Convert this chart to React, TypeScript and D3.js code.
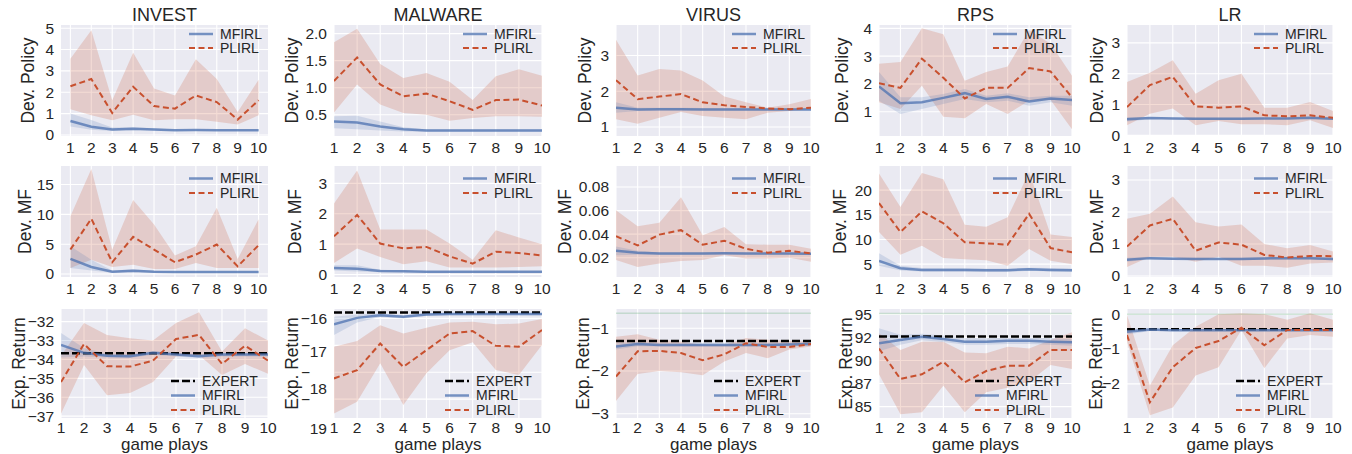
import React from 'react';
import * as d3 from 'd3';

// x axis: game plays
const games = [1, 2, 3, 4, 5, 6, 7, 8, 9, 10];
const envs = ['INVEST', 'MALWARE', 'VIRUS', 'RPS', 'LR'];
const rowLabels = ['Dev. Policy', 'Dev. MF', 'Exp. Return'];

// ---- row 1: Dev. Policy ----
const investPolMF = [0.65, 0.38, 0.26, 0.29, 0.26, 0.22, 0.23, 0.22, 0.22, 0.22];
const investPolMFLo = [0.4, 0.24, 0.19, 0.22, 0.21, 0.18, 0.19, 0.18, 0.18, 0.18];
const investPolMFHi = [1.0, 0.7, 0.35, 0.36, 0.31, 0.26, 0.27, 0.26, 0.26, 0.26];
const investPolPL = [2.28, 2.62, 1.03, 2.26, 1.35, 1.23, 1.85, 1.54, 0.72, 1.62];
const investPolPLLo = [1.2, 0.92, 0.69, 0.95, 0.69, 0.74, 0.74, 0.62, 0.49, 0.92];
const investPolPLHi = [3.57, 4.9, 1.62, 3.85, 2.18, 1.85, 3.54, 2.62, 1.08, 2.58];

const malwarePolMF = [0.375, 0.356, 0.28, 0.23, 0.21, 0.21, 0.21, 0.21, 0.21, 0.21];
const malwarePolMFLo = [0.25, 0.23, 0.21, 0.19, 0.19, 0.19, 0.19, 0.19, 0.19, 0.19];
const malwarePolMFHi = [0.47, 0.48, 0.375, 0.27, 0.23, 0.23, 0.23, 0.23, 0.23, 0.23];
const malwarePolPL = [1.125, 1.56, 1.06, 0.84, 0.89, 0.75, 0.59, 0.77, 0.78, 0.67];
const malwarePolPLLo = [0.54, 1.06, 0.69, 0.53, 0.5, 0.39, 0.44, 0.47, 0.47, 0.46];
const malwarePolPLHi = [1.84, 2.09, 1.44, 1.18, 1.27, 1.11, 0.77, 1.21, 1.34, 1.22];

const virusPolMF = [1.54, 1.49, 1.5, 1.5, 1.49, 1.49, 1.49, 1.49, 1.49, 1.49];
const virusPolMFLo = [1.4, 1.45, 1.46, 1.46, 1.46, 1.46, 1.46, 1.46, 1.46, 1.46];
const virusPolMFHi = [1.69, 1.54, 1.54, 1.54, 1.53, 1.53, 1.53, 1.53, 1.53, 1.53];
const virusPolPL = [2.31, 1.78, 1.85, 1.92, 1.69, 1.61, 1.56, 1.52, 1.5, 1.54];
const virusPolPLLo = [1.22, 1.09, 1.26, 1.42, 1.31, 1.26, 1.22, 1.4, 1.45, 1.5];
const virusPolPLHi = [3.44, 2.44, 2.62, 2.58, 2.3, 1.85, 1.69, 1.54, 1.64, 1.78];

const rpsPolMF = [1.91, 1.31, 1.34, 1.5, 1.67, 1.46, 1.54, 1.37, 1.48, 1.42];
const rpsPolMFLo = [1.4, 0.92, 1.1, 1.28, 1.46, 1.34, 1.4, 1.22, 1.34, 1.22];
const rpsPolMFHi = [2.43, 1.52, 1.52, 1.64, 1.82, 1.58, 1.67, 1.52, 1.58, 1.58];
const rpsPolPL = [2.03, 1.86, 2.91, 2.22, 1.48, 1.86, 1.86, 2.57, 2.45, 1.52];
const rpsPolPLLo = [1.34, 1.1, 1.94, 0.82, 0.77, 1.28, 0.92, 1.4, 1.42, 0.37];
const rpsPolPLHi = [2.73, 2.79, 4.0, 3.79, 2.12, 2.43, 2.63, 3.94, 3.45, 2.3];

const lrPolMF = [0.52, 0.56, 0.55, 0.54, 0.54, 0.54, 0.55, 0.55, 0.57, 0.54];
const lrPolMFLo = [0.45, 0.52, 0.52, 0.51, 0.51, 0.51, 0.52, 0.52, 0.53, 0.5];
const lrPolMFHi = [0.6, 0.6, 0.58, 0.57, 0.57, 0.57, 0.58, 0.58, 0.61, 0.58];
const lrPolPL = [0.92, 1.63, 1.9, 0.94, 0.9, 0.94, 0.65, 0.62, 0.65, 0.57];
const lrPolPLLo = [0.33, 0.7, 0.87, 0.33, 0.47, 0.36, 0.36, 0.33, 0.49, 0.24];
const lrPolPLHi = [1.73, 2.03, 2.44, 1.35, 1.79, 2.0, 0.9, 0.9, 1.08, 0.79];

// ---- row 2: Dev. MF ----
const investMfMF = [2.53, 1.18, 0.39, 0.56, 0.39, 0.34, 0.34, 0.34, 0.34, 0.34];
const investMfMFLo = [1.0, 0.6, 0.2, 0.3, 0.2, 0.2, 0.2, 0.2, 0.2, 0.2];
const investMfMFHi = [4.66, 2.4, 0.6, 0.8, 0.55, 0.48, 0.48, 0.48, 0.48, 0.48];
const investMfPL = [4.1, 9.27, 1.97, 6.24, 4.1, 1.97, 3.26, 4.94, 1.29, 4.83];
const investMfPLLo = [1.0, 2.4, 1.18, 1.57, 0.84, 0.84, 1.85, 1.0, 1.0, 1.0];
const investMfPLHi = [9.7, 17.6, 4.1, 12.4, 8.3, 3.1, 4.66, 11.1, 2.53, 9.16];

const malwareMfMF = [0.22, 0.19, 0.12, 0.11, 0.09, 0.09, 0.09, 0.09, 0.09, 0.09];
const malwareMfMFLo = [0.13, 0.1, 0.08, 0.07, 0.06, 0.06, 0.06, 0.06, 0.06, 0.06];
const malwareMfMFHi = [0.31, 0.31, 0.16, 0.14, 0.12, 0.12, 0.12, 0.12, 0.12, 0.12];
const malwareMfPL = [1.26, 1.96, 1.02, 0.86, 0.91, 0.6, 0.36, 0.75, 0.71, 0.63];
const malwareMfPLLo = [0.38, 0.86, 0.58, 0.34, 0.44, 0.23, 0.23, 0.23, 0.25, 0.27];
const malwareMfPLHi = [2.34, 3.42, 1.48, 1.48, 1.48, 1.02, 0.49, 1.46, 1.22, 1.0];

const virusMfMF = [0.026, 0.0243, 0.0235, 0.0235, 0.0235, 0.0237, 0.0235, 0.0235, 0.0235, 0.0233];
const virusMfMFLo = [0.022, 0.0225, 0.0225, 0.0225, 0.0225, 0.0227, 0.0225, 0.0225, 0.0225, 0.0223];
const virusMfMFHi = [0.0295, 0.026, 0.0245, 0.0245, 0.0245, 0.0247, 0.0245, 0.0245, 0.0245, 0.0243];
const virusMfPL = [0.0382, 0.0304, 0.0396, 0.0434, 0.031, 0.0344, 0.0275, 0.0243, 0.0258, 0.0237];
const virusMfPLLo = [0.018, 0.0122, 0.0151, 0.0171, 0.018, 0.022, 0.0194, 0.0194, 0.02, 0.0165];
const virusMfPLHi = [0.0604, 0.0468, 0.0497, 0.0713, 0.039, 0.046, 0.0315, 0.031, 0.031, 0.0275];

const rpsMfMF = [5.68, 4.18, 3.84, 3.84, 3.84, 3.77, 3.77, 3.98, 3.84, 3.77];
const rpsMfMFLo = [4.66, 3.7, 3.5, 3.5, 3.5, 3.45, 3.45, 3.65, 3.5, 3.45];
const rpsMfMFHi = [7.2, 4.7, 4.2, 4.2, 4.2, 4.1, 4.1, 4.3, 4.2, 4.1];
const rpsMfPL = [17.4, 11.5, 15.7, 13.3, 9.43, 9.23, 8.95, 15.2, 8.27, 7.39];
const rpsMfPLLo = [11.5, 6.9, 8.75, 6.23, 6.0, 5.8, 4.66, 8.07, 5.68, 5.0];
const rpsMfPLHi = [23.4, 16.6, 23.5, 22.2, 13.0, 12.6, 14.5, 23.7, 11.0, 10.5];

const lrMfMF = [0.51, 0.56, 0.54, 0.53, 0.53, 0.53, 0.55, 0.56, 0.56, 0.53];
const lrMfMFLo = [0.45, 0.52, 0.5, 0.5, 0.5, 0.5, 0.51, 0.52, 0.52, 0.49];
const lrMfMFHi = [0.57, 0.6, 0.58, 0.57, 0.57, 0.57, 0.59, 0.6, 0.6, 0.57];
const lrMfPL = [0.92, 1.58, 1.79, 0.79, 1.05, 0.98, 0.66, 0.58, 0.63, 0.62];
const lrMfPLLo = [0.28, 0.6, 0.6, 0.45, 0.6, 0.32, 0.32, 0.26, 0.39, 0.42];
const lrMfPLHi = [1.79, 1.95, 2.49, 1.68, 1.55, 1.61, 1.0, 0.87, 0.97, 0.77];

// ---- row 3: Exp. Return ----
const investRetExpert = -33.67;
const investRetMF = [-33.23, -33.65, -33.8, -33.83, -33.65, -33.74, -33.83, -33.74, -33.74, -33.74];
const investRetMFLo = [-33.9, -33.85, -33.9, -33.93, -33.75, -33.84, -33.93, -33.84, -33.84, -33.84];
const investRetMFHi = [-32.6, -33.4, -33.7, -33.73, -33.55, -33.64, -33.73, -33.64, -33.64, -33.64];
const investRetPL = [-35.2, -33.18, -34.36, -34.38, -34.06, -32.92, -32.7, -34.24, -33.27, -34.06];
const investRetPLLo = [-36.88, -34.29, -35.9, -35.77, -35.2, -33.85, -33.76, -34.82, -34.24, -34.76];
const investRetPLHi = [-33.8, -32.07, -32.7, -32.88, -33.0, -32.07, -31.5, -33.58, -32.35, -33.0];

const malwareRetExpert = -15.78;
const malwareRetMF = [-16.22, -15.98, -15.88, -15.94, -15.85, -15.84, -15.84, -15.84, -15.84, -15.84];
const malwareRetMFLo = [-16.62, -16.15, -15.95, -16.0, -15.9, -15.88, -15.88, -15.88, -15.88, -15.88];
const malwareRetMFHi = [-15.94, -15.85, -15.82, -15.88, -15.8, -15.8, -15.8, -15.8, -15.8, -15.8];
const malwareRetPL = [-18.23, -17.92, -16.93, -17.8, -17.18, -16.56, -16.47, -17.02, -17.05, -16.43];
const malwareRetPLLo = [-19.53, -19.1, -17.67, -19.22, -18.04, -17.18, -16.89, -17.92, -18.1, -16.99];
const malwareRetPLHi = [-17.05, -16.84, -16.25, -16.56, -16.35, -16.15, -16.12, -16.22, -16.19, -16.02];

const virusRetExpert = -1.3;
const virusRetTop = -0.65;
const virusRetMF = [-1.43, -1.37, -1.39, -1.39, -1.39, -1.39, -1.39, -1.39, -1.38, -1.37];
const virusRetMFLo = [-1.5, -1.42, -1.43, -1.43, -1.43, -1.43, -1.43, -1.43, -1.42, -1.41];
const virusRetMFHi = [-1.36, -1.32, -1.35, -1.35, -1.35, -1.35, -1.35, -1.35, -1.34, -1.33];
const virusRetPL = [-2.13, -1.54, -1.53, -1.58, -1.75, -1.61, -1.35, -1.44, -1.44, -1.37];
const virusRetPLLo = [-2.7, -2.07, -2.0, -2.03, -2.1, -1.78, -1.58, -1.7, -1.5, -1.43];
const virusRetPLHi = [-1.2, -1.14, -1.27, -1.31, -1.39, -1.39, -1.23, -1.27, -1.3, -1.31];

const rpsRetExpert = 92.6;
const rpsRetTop = 95.1;
const rpsRetMF = [91.86, 92.22, 92.58, 92.33, 92.04, 92.04, 92.15, 92.15, 92.04, 91.97];
const rpsRetMFLo = [91.0, 91.7, 92.2, 92.0, 91.7, 91.7, 91.8, 91.8, 91.7, 91.6];
const rpsRetMFHi = [93.5, 92.8, 92.9, 92.7, 92.4, 92.4, 92.5, 92.5, 92.4, 92.3];
const rpsRetPL = [91.3, 88.0, 88.5, 89.87, 87.64, 88.86, 89.44, 89.44, 91.14, 91.14];
const rpsRetPLLo = [88.5, 84.17, 84.39, 87.27, 84.39, 86.55, 87.06, 87.7, 89.5, 89.08];
const rpsRetPLHi = [92.94, 91.14, 92.04, 92.04, 90.88, 90.78, 91.5, 91.3, 92.22, 93.05];

const lrRetExpert = -0.43;
const lrRetTop = 0.0;
const lrRetMF = [-0.5, -0.44, -0.46, -0.46, -0.46, -0.46, -0.46, -0.46, -0.46, -0.46];
const lrRetMFLo = [-0.58, -0.48, -0.49, -0.49, -0.49, -0.49, -0.49, -0.49, -0.49, -0.49];
const lrRetMFHi = [-0.42, -0.4, -0.43, -0.43, -0.43, -0.43, -0.43, -0.43, -0.43, -0.43];
const lrRetPL = [-0.6, -2.53, -1.52, -0.97, -0.77, -0.39, -0.89, -0.45, -0.45, -0.45];
const lrRetPLLo = [-0.79, -2.9, -2.68, -1.76, -1.52, -0.45, -1.55, -0.7, -0.6, -0.65];
const lrRetPLHi = [-0.02, -2.05, -0.89, -0.36, 0.0, 0.03, 0.0, -0.16, 0.03, -0.16];

// y ticks per panel
const ticksInvestPol = [0, 1, 2, 3, 4, 5];
const ticksMalwarePol = [0.5, 1.0, 1.5, 2.0];
const ticksVirusPol = [1, 2, 3];
const ticksRpsPol = [1, 2, 3, 4];
const ticksLrPol = [0, 1, 2, 3];
const ticksInvestMf = [0, 5, 10, 15];
const ticksMalwareMf = [0, 1, 2, 3];
const ticksVirusMf = [0.02, 0.04, 0.06, 0.08];
const ticksRpsMf = [5, 10, 15, 20];
const ticksLrMf = [0, 1, 2, 3];
const ticksInvestRet = [-37, -36, -35, -34, -33, -32];
const ticksMalwareRet = [-19, -18, -17, -16];
const ticksVirusRet = [-3, -2, -1];
const ticksRpsRet = [85, 87.5, 90, 92.5, 95];
const ticksLrRet = [-2, -1, 0];

// ---- layout ----
const W = 1352;
const H = 454;
const FONT = '"Liberation Sans", Arial, Helvetica, sans-serif';
const BG = '#EAEAF2';
const MF_COLOR = '#4C72B0';
const PL_COLOR = '#C8502E';
const TXT = '#262626';
const COLS: [number, number][] = [[61, 268], [334, 542], [616, 811], [879, 1072], [1127, 1333]];
const ROWS: [number, number][] = [[25, 136], [166, 277], [309, 418]];
const YLABEL_X = [
  [28, 292, 585, 842, 1097],
  [25, 295, 565, 840, 1097],
  [19, 292, 583, 846, 1096],
];
const LEGEND_Y = [[34, 48], [178.5, 193], [381, 395.5, 410]];

const minus = (s: string) => s.replace('-', '\u2212');

const fmt = {
  int: (v: number) => minus(String(Math.trunc(v))),
  one: (v: number) => minus(v.toFixed(1)),
  two: (v: number) => minus(v.toFixed(2)),
};

type Spec = {
  row: number; col: number;
  mf: number[]; mfLo: number[]; mfHi: number[];
  pl: number[]; plLo: number[]; plHi: number[];
  expert?: number; top?: number;
  yDomain: [number, number]; yTicks: number[];
  tickFmt: (v: number) => string;
  padX?: boolean; splitMinus?: number[];
};

const panels: Spec[] = [
  { row: 0, col: 0, mf: investPolMF, mfLo: investPolMFLo, mfHi: investPolMFHi, pl: investPolPL, plLo: investPolPLLo, plHi: investPolPLHi, yDomain: [-0.05, 5.15], yTicks: ticksInvestPol, tickFmt: fmt.int, padX: true },
  { row: 0, col: 1, mf: malwarePolMF, mfLo: malwarePolMFLo, mfHi: malwarePolMFHi, pl: malwarePolPL, plLo: malwarePolPLLo, plHi: malwarePolPLHi, yDomain: [0.106, 2.16], yTicks: ticksMalwarePol, tickFmt: fmt.one },
  { row: 0, col: 2, mf: virusPolMF, mfLo: virusPolMFLo, mfHi: virusPolMFHi, pl: virusPolPL, plLo: virusPolPLLo, plHi: virusPolPLHi, yDomain: [0.75, 3.85], yTicks: ticksVirusPol, tickFmt: fmt.int },
  { row: 0, col: 3, mf: rpsPolMF, mfLo: rpsPolMFLo, mfHi: rpsPolMFHi, pl: rpsPolPL, plLo: rpsPolPLLo, plHi: rpsPolPLHi, yDomain: [0.13, 4.12], yTicks: ticksRpsPol, tickFmt: fmt.int },
  { row: 0, col: 4, mf: lrPolMF, mfLo: lrPolMFLo, mfHi: lrPolMFHi, pl: lrPolPL, plLo: lrPolPLLo, plHi: lrPolPLHi, yDomain: [-0.02, 3.58], yTicks: ticksLrPol, tickFmt: fmt.int },
  { row: 1, col: 0, mf: investMfMF, mfLo: investMfMFLo, mfHi: investMfMFHi, pl: investMfPL, plLo: investMfPLLo, plHi: investMfPLHi, yDomain: [-0.5, 18.1], yTicks: ticksInvestMf, tickFmt: fmt.int, padX: true },
  { row: 1, col: 1, mf: malwareMfMF, mfLo: malwareMfMFLo, mfHi: malwareMfMFHi, pl: malwareMfPL, plLo: malwareMfPLLo, plHi: malwareMfPLHi, yDomain: [-0.08, 3.57], yTicks: ticksMalwareMf, tickFmt: fmt.int },
  { row: 1, col: 2, mf: virusMfMF, mfLo: virusMfMFLo, mfHi: virusMfMFHi, pl: virusMfPL, plLo: virusMfPLLo, plHi: virusMfPLHi, yDomain: [0.0036, 0.0979], yTicks: ticksVirusMf, tickFmt: fmt.two },
  { row: 1, col: 3, mf: rpsMfMF, mfLo: rpsMfMFLo, mfHi: rpsMfMFHi, pl: rpsMfPL, plLo: rpsMfPLLo, plHi: rpsMfPLHi, yDomain: [2.4, 24.9], yTicks: ticksRpsMf, tickFmt: fmt.int },
  { row: 1, col: 4, mf: lrMfMF, mfLo: lrMfMFLo, mfHi: lrMfMFHi, pl: lrMfPL, plLo: lrMfPLLo, plHi: lrMfPLHi, yDomain: [-0.03, 3.44], yTicks: ticksLrMf, tickFmt: fmt.int },
  { row: 2, col: 0, mf: investRetMF, mfLo: investRetMFLo, mfHi: investRetMFHi, pl: investRetPL, plLo: investRetPLLo, plHi: investRetPLHi, expert: investRetExpert, yDomain: [-37.1, -31.33], yTicks: ticksInvestRet, tickFmt: fmt.int },
  { row: 2, col: 1, mf: malwareRetMF, mfLo: malwareRetMFLo, mfHi: malwareRetMFHi, pl: malwareRetPL, plLo: malwareRetPLLo, plHi: malwareRetPLHi, expert: malwareRetExpert, yDomain: [-19.7, -15.65], yTicks: ticksMalwareRet, tickFmt: fmt.int, splitMinus: [29, 16, 6, 0] },
  { row: 2, col: 2, mf: virusRetMF, mfLo: virusRetMFLo, mfHi: virusRetMFHi, pl: virusRetPL, plLo: virusRetPLLo, plHi: virusRetPLHi, expert: virusRetExpert, top: virusRetTop, yDomain: [-3.1, -0.55], yTicks: ticksVirusRet, tickFmt: fmt.int },
  { row: 2, col: 3, mf: rpsRetMF, mfLo: rpsRetMFLo, mfHi: rpsRetMFHi, pl: rpsRetPL, plLo: rpsRetPLLo, plHi: rpsRetPLHi, expert: rpsRetExpert, top: rpsRetTop, yDomain: [83.77, 95.58], yTicks: ticksRpsRet, tickFmt: fmt.int },
  { row: 2, col: 4, mf: lrRetMF, mfLo: lrRetMFLo, mfHi: lrRetMFHi, pl: lrRetPL, plLo: lrRetPLLo, plHi: lrRetPLHi, expert: lrRetExpert, top: lrRetTop, yDomain: [-2.98, 0.15], yTicks: ticksLrRet, tickFmt: fmt.int },
];

function Panel({ p }: { p: Spec }) {
  const [x0, x1] = COLS[p.col];
  const [y0, y1] = ROWS[p.row];
  const x = d3.scaleLinear().domain(p.padX ? [0.55, 10.45] : [1, 10]).range([x0, x1]);
  const y = d3.scaleLinear().domain(p.yDomain).range([y1, y0]);
  const band = (lo: number[], hi: number[]) =>
    d3.area<number>().x((_, i) => x(games[i])).y0((_, i) => y(lo[i])).y1((_, i) => y(hi[i]))(lo) || '';
  const line = (v: number[]) => d3.line<number>().x((_, i) => x(games[i])).y(d => y(d))(v) || '';
  const clip = `clip-${p.row}-${p.col}`;
  const isReturn = p.row === 2;
  const legendItems = isReturn
    ? [{ k: 'EXPERT', c: '#000', dash: '8,3', w: 2.5, o: 1 }, { k: 'MFIRL', c: MF_COLOR, dash: '', w: 2.5, o: 0.75 }, { k: 'PLIRL', c: PL_COLOR, dash: '6,3.5', w: 2, o: 1 }]
    : [{ k: 'MFIRL', c: MF_COLOR, dash: '', w: 2.5, o: 0.75 }, { k: 'PLIRL', c: PL_COLOR, dash: '6,3.5', w: 2, o: 1 }];
  const textX = isReturn ? x1 - 66 : x1 - 48;
  const cy = (y0 + y1) / 2;
  const xTickY = isReturn ? y1 + 15 : y1 + 16.5;

  return (
    <g>
      <defs>
        <clipPath id={clip}><rect x={x0} y={y0} width={x1 - x0} height={y1 - y0} /></clipPath>
      </defs>
      <rect x={x0} y={y0} width={x1 - x0} height={y1 - y0} fill={BG} />
      {games.map(g => (
        <line key={'vx' + g} x1={x(g)} x2={x(g)} y1={y0} y2={y1} stroke="#fff" strokeWidth={1.1} />
      ))}
      {p.yTicks.map(t => (
        <line key={'hy' + t} x1={x0} x2={x1} y1={y(t)} y2={y(t)} stroke="#fff" strokeWidth={1.1} />
      ))}
      <g clipPath={`url(#${clip})`}>
        {p.top !== undefined && (
          <line x1={x0} x2={x1} y1={y(p.top)} y2={y(p.top)} stroke="#55A868" strokeOpacity={0.25} strokeWidth={1.5} />
        )}
        <path d={band(p.plLo, p.plHi)} fill={PL_COLOR} fillOpacity={0.2} />
        <path d={band(p.mfLo, p.mfHi)} fill={MF_COLOR} fillOpacity={0.18} />
        {p.expert !== undefined && (
          <line x1={x0} x2={x1} y1={y(p.expert)} y2={y(p.expert)} stroke="#000" strokeWidth={2.5} strokeDasharray="8,3" />
        )}
        <path d={line(p.mf)} fill="none" stroke={MF_COLOR} strokeOpacity={0.75} strokeWidth={2.5} />
        <path d={line(p.pl)} fill="none" stroke={PL_COLOR} strokeWidth={2} strokeDasharray="6,3.5" />
      </g>
      {/* x tick labels */}
      {games.map(g => (
        <text key={'xt' + g} x={x(g)} y={xTickY} textAnchor="middle" fontSize={15.5} fill={TXT}>{g}</text>
      ))}
      {/* y tick labels */}
      {p.yTicks.map((t, i) => {
        const off = p.splitMinus ? p.splitMinus[i] : 0;
        const lbl = p.tickFmt(t);
        if (off > 0) {
          return (
            <g key={'yt' + t}>
              <text x={x0 - 24} y={y(t)} dy="0.35em" textAnchor="end" fontSize={15.5} fill={TXT}>{'\u2212'}</text>
              <text x={x0 - 7} y={y(t) + off} dy="0.35em" textAnchor="end" fontSize={15.5} fill={TXT}>{lbl.replace('\u2212', '')}</text>
            </g>
          );
        }
        return (
          <text key={'yt' + t} x={x0 - 7} y={y(t)} dy="0.35em" textAnchor="end" fontSize={15.5} fill={TXT}>{lbl}</text>
        );
      })}
      {/* y axis label */}
      <text transform={`translate(${YLABEL_X[p.row][p.col]},${cy}) rotate(-90)`} textAnchor="middle" dy="0.35em" fontSize={17.5} fill={TXT}>
        {rowLabels[p.row]}
      </text>
      {p.row === 0 && (
        <text x={(x0 + x1) / 2} y={21} textAnchor="middle" fontSize={18} fill={TXT}>{envs[p.col]}</text>
      )}
      {isReturn && (
        <text x={(x0 + x1) / 2} y={450} textAnchor="middle" fontSize={17} fill={TXT}>game plays</text>
      )}
      {/* legend */}
      {legendItems.map((it, i) => {
        const ly = LEGEND_Y[p.row][i];
        return (
          <g key={'lg' + it.k}>
            <line x1={textX - 31} x2={textX - 7} y1={ly} y2={ly} stroke={it.c} strokeOpacity={it.o} strokeWidth={it.w} strokeDasharray={it.dash || undefined} />
            <text x={textX} y={ly} dy="0.35em" fontSize={14} fill={TXT}>{it.k}</text>
          </g>
        );
      })}
    </g>
  );
}

export default function App() {
  return (
    <svg width={W} height={H} style={{ position: 'absolute', left: 0, top: 0, background: '#fff' }} fontFamily={FONT}>
      <rect width={W} height={H} fill="#fff" />
      {panels.map(p => <Panel key={`${p.row}-${p.col}`} p={p} />)}
    </svg>
  );
}
